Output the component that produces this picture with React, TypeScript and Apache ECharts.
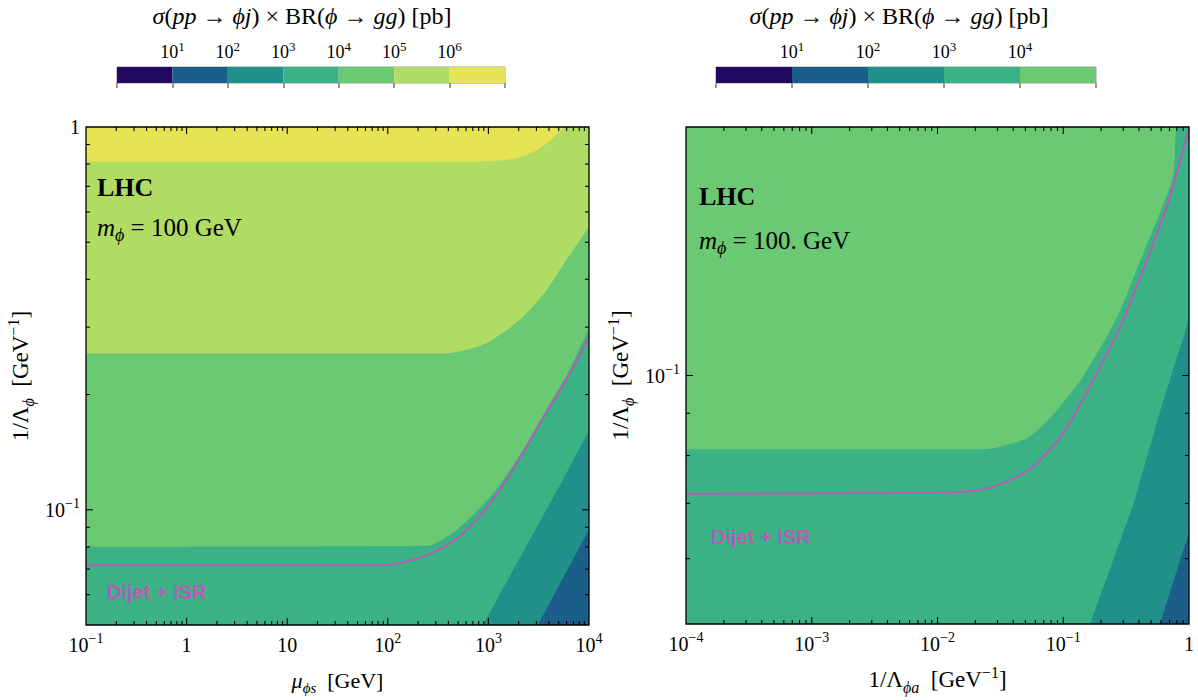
import React, { useEffect, useRef } from 'react';
import * as echarts from 'echarts';

type Pt = [number, number];

// contour band colours, lowest band (<10 pb) to highest (>1e6 pb)
const levelColors = ['#22085e', '#1b5e8a', '#21908b', '#3bb283', '#6bc974', '#b0dc63', '#e6e455'];
const dijetColor = '#b35cb8';

// colour bar tick exponents (10^k) and number of bands shown
const leftBarExponents = [1, 2, 3, 4, 5, 6];
const rightBarExponents = [1, 2, 3, 4];
const leftBarBands = 7;
const rightBarBands = 5;

// axis ranges
const leftXRange: Pt = [0.1, 1e4];
const leftYRange: Pt = [0.05, 1];
const rightXRange: Pt = [1e-4, 1];
const rightYRange: Pt = [0.05, 0.2];

// log-axis tick layout
const minorMantissas = [2, 3, 4, 5, 6, 7, 8, 9];
const leftXDecades = [0.1, 1, 10, 100, 1000, 10000];
const leftYDecades = [0.01, 0.1, 1];
const rightXDecades = [1e-4, 1e-3, 1e-2, 1e-1, 1];
const rightYDecades = [0.01, 0.1];

// left panel: contour boundaries (mu_phis [GeV], 1/Lambda_phi [GeV^-1])
const leftContour1e2: Pt[] = [[3100, 0.05], [1e4, 0.0887]];
const leftContour1e3: Pt[] = [[883, 0.05], [2000, 0.074], [4400, 0.1075], [1e4, 0.161]];
const leftContour1e4: Pt[] = [[0.1, 0.0801], [245, 0.0806], [415, 0.0861], [585, 0.0925], [826, 0.1012], [1164, 0.112], [1642, 0.127], [2420, 0.149], [3830, 0.184], [6040, 0.2255], [1e4, 0.297]];
const leftContour1e5: Pt[] = [[0.1, 0.256], [330, 0.256], [820, 0.268], [1530, 0.295], [2420, 0.327], [3830, 0.377], [6040, 0.452], [1e4, 0.547]];
const leftContour1e6: Pt[] = [[0.1, 0.811], [820, 0.813], [1760, 0.826], [3040, 0.871], [4400, 0.936], [6000, 1]];
const leftDijetISR: Pt[] = [[0.1, 0.0716], [90, 0.0716], [166, 0.0737], [281, 0.0773], [488, 0.0842], [771, 0.0945], [1300, 0.1127], [2060, 0.1365], [3830, 0.181], [6040, 0.22], [1e4, 0.283]];

// right panel: contour boundaries (1/Lambda_phia [GeV^-1], 1/Lambda_phi [GeV^-1])
const rightContour1e2: Pt[] = [[0.587, 0.05], [1, 0.0646]];
const rightContour1e3: Pt[] = [[0.163, 0.05], [0.359, 0.0696], [0.621, 0.093], [1, 0.117]];
const rightContour1e4: Pt[] = [[1e-4, 0.0814], [0.023, 0.0814], [0.0378, 0.0826], [0.0515, 0.084], [0.0653, 0.0863], [0.0828, 0.0896], [0.1035, 0.0934], [0.136, 0.0985], [0.196, 0.1078], [0.282, 0.1197], [0.407, 0.1374], [0.588, 0.1577], [0.746, 0.1742], [0.818, 0.2]];
const rightDijetISR: Pt[] = [[1e-4, 0.0719], [0.0126, 0.0722], [0.0206, 0.0726], [0.0297, 0.0736], [0.0398, 0.075], [0.0545, 0.0771], [0.0743, 0.0806], [0.0995, 0.0851], [0.136, 0.0922], [0.196, 0.1024], [0.282, 0.1143], [0.407, 0.1312], [0.588, 0.1517], [0.746, 0.1694], [1, 0.2]];

const SERIF = '"Liberation Serif", "Times New Roman", serif';
const SANS = '"Liberation Sans", Arial, sans-serif';

const richMath = (size: number) => ({
  r: { fontFamily: SERIF, fontSize: size, color: '#000', lineHeight: Math.round(size * 1.35) },
  i: { fontFamily: SERIF, fontStyle: 'italic', fontSize: size, color: '#000', lineHeight: Math.round(size * 1.35) },
  sup: { fontFamily: SERIF, fontSize: Math.round(size * 0.7), color: '#000', verticalAlign: 'top', lineHeight: Math.round(size * 0.7) },
  sub: { fontFamily: SERIF, fontStyle: 'italic', fontSize: Math.round(size * 0.7), color: '#000', verticalAlign: 'bottom', lineHeight: Math.round(size * 0.7) },
});

const expLabel = (v: number) => {
  const e = Math.log10(v);
  const r = Math.round(e);
  if (Math.abs(e - r) > 1e-6) return '';
  if (r === 0) return '{r|1}';
  if (r === 1) return '{r|10}';
  return `{r|10}{sup|${r < 0 ? '−' : ''}${Math.abs(r)}}`;
};

const closeRegion = (curve: Pt[], xr: Pt, yr: Pt): Pt[] => {
  const pts = curve.slice();
  if (pts[0][0] > xr[0]) pts.unshift([xr[0], yr[0]]);
  if (pts[pts.length - 1][0] < xr[1]) pts.push([xr[1], yr[1]]);
  return pts;
};

const inRange = (vals: number[], r: Pt, strict: boolean) =>
  vals.filter((v) => (strict ? v > r[0] * 1.0001 && v < r[1] * 0.9999 : v >= r[0] * 0.9999 && v <= r[1] * 1.0001));
const minorOf = (decades: number[]) => {
  const out: number[] = [];
  decades.forEach((d) => minorMantissas.forEach((m) => out.push(+(d * m).toPrecision(6))));
  return out;
};

const areaSeries = (data: Pt[], color: string, idx: number, smooth: boolean | number) => ({
  type: 'line',
  xAxisIndex: idx,
  yAxisIndex: idx,
  data,
  smooth,
  symbol: 'none',
  silent: true,
  lineStyle: { width: 0, opacity: 0 },
  areaStyle: { color, opacity: 1, origin: 'end' },
  z: 2,
});

const lineSeries = (data: Pt[], idx: number) => ({
  type: 'line',
  xAxisIndex: idx,
  yAxisIndex: idx,
  data,
  smooth: 0.3,
  symbol: 'none',
  silent: true,
  lineStyle: { color: dijetColor, width: 2 },
  z: 3,
});

const mainAxis = (grid: number, range: Pt, position: string, labels: boolean, extra: any = {}) => ({
  gridIndex: grid,
  type: 'log',
  logBase: 10,
  min: range[0],
  max: range[1],
  position,
  z: 10,
  axisLine: { show: false, onZero: false },
  axisTick: { show: false },
  minorTick: { show: false },
  splitLine: { show: false },
  axisLabel: { show: labels, formatter: expLabel, rich: richMath(20), margin: 6 },
  ...extra,
});

const barAxis = (grid: number, bands: number, exps: number[]) => ({
  gridIndex: grid,
  type: 'value',
  min: 0,
  max: bands,
  interval: 1,
  position: 'top',
  z: 10,
  axisLine: { show: false },
  axisTick: { show: true, inside: true, length: 5, lineStyle: { color: '#777', width: 1.5 } },
  splitLine: { show: false },
  axisLabel: {
    margin: 3,
    rich: richMath(18),
    formatter: (v: number) => (exps.includes(v) ? `{r|10}{sup|${v}}` : ''),
  },
});

const barSeries = (idx: number, bands: number) => ({
  type: 'custom',
  xAxisIndex: idx,
  yAxisIndex: idx,
  silent: true,
  data: levelColors.slice(0, bands).map((c, i) => [i, i + 1]),
  renderItem: (params: any, api: any) => {
    const a = api.coord([api.value(0), 0]);
    const b = api.coord([api.value(1), 1]);
    return {
      type: 'rect',
      shape: { x: a[0], y: b[1], width: b[0] - a[0], height: a[1] - b[1] },
      style: { fill: levelColors[params.dataIndex] },
    };
  },
  z: 2,
});

const titleText = '{i|σ}{r|(}{i|pp}{r| → }{i|ϕj}{r|) × BR(}{i|ϕ}{r| → }{i|gg}{r|) [pb]}';
const yName = '{r|1/Λ}{sub|ϕ}{r|  [GeV}{sup|−1}{r|]}';

const textEl = (x: number, y: number, text: string, style: any) => ({
  type: 'text',
  x,
  y,
  z: 100,
  style: { text, align: 'left', verticalAlign: 'middle', textAlign: 'left', textVerticalAlign: 'middle', fill: '#000', ...style },
});

export default function App() {
  const ref = useRef<HTMLDivElement>(null);
  useEffect(() => {
    if (!ref.current) return;
    const chart = echarts.init(ref.current, undefined, { renderer: 'svg' });
    const texts: any[] = [
      { type: 'text', x: 302, y: 16, z: 100, style: { text: titleText, rich: richMath(24), align: 'center', verticalAlign: 'middle', textAlign: 'center', textVerticalAlign: 'middle' } },
      { type: 'text', x: 899, y: 16, z: 100, style: { text: titleText, rich: richMath(24), align: 'center', verticalAlign: 'middle', textAlign: 'center', textVerticalAlign: 'middle' } },
      textEl(97, 187, 'LHC', { font: `bold 26px ${SERIF}` }),
      textEl(97, 227, '{i|m}{sub|ϕ}{r| = 100 GeV}', { rich: richMath(25) }),
      textEl(699, 196, 'LHC', { font: `bold 26px ${SERIF}` }),
      textEl(699, 240, '{i|m}{sub|ϕ}{r| = 100. GeV}', { rich: richMath(25) }),
      textEl(107, 592, 'Dijet + ISR', { font: `bold 20px ${SANS}`, fill: dijetColor }),
      textEl(711, 537, 'Dijet + ISR', { font: `bold 20px ${SANS}`, fill: dijetColor }),
    ];
    const option: any = {
      animation: false,
      grid: [
        { left: 86, top: 127, width: 503, height: 503 },
        { left: 686, top: 127, width: 503, height: 503 },
        { left: 117, top: 67, width: 388, height: 16, show: true, borderColor: '#999', borderWidth: 1 },
        { left: 716, top: 67, width: 380, height: 16, show: true, borderColor: '#999', borderWidth: 1 },
      ],
      xAxis: [
        mainAxis(0, leftXRange, 'bottom', true, {
          name: '{i|μ}{sub|ϕs}{r|  [GeV]}', nameLocation: 'middle', nameGap: 40, nameTextStyle: { rich: richMath(22) },
        }),
        mainAxis(0, leftXRange, 'top', false),
        mainAxis(1, rightXRange, 'bottom', true, {
          name: '{r|1/Λ}{sub|ϕa}{r|  [GeV}{sup|−1}{r|]}', nameLocation: 'middle', nameGap: 40, nameTextStyle: { rich: richMath(23) },
        }),
        mainAxis(1, rightXRange, 'top', false),
        barAxis(2, leftBarBands, leftBarExponents),
        barAxis(3, rightBarBands, rightBarExponents),
      ],
      yAxis: [
        mainAxis(0, leftYRange, 'left', true, {
          name: yName, nameLocation: 'middle', nameGap: 50, nameTextStyle: { rich: richMath(23) },
        }),
        mainAxis(0, leftYRange, 'right', false),
        mainAxis(1, rightYRange, 'left', true, {
          name: yName, nameLocation: 'middle', nameGap: 50, nameTextStyle: { rich: richMath(23) },
        }),
        mainAxis(1, rightYRange, 'right', false),
        { gridIndex: 2, type: 'value', min: 0, max: 1, show: false },
        { gridIndex: 3, type: 'value', min: 0, max: 1, show: false },
      ],
      series: [
        // left panel (xAxis 0 / yAxis 0)
        areaSeries([[leftXRange[0], leftYRange[0]], [leftXRange[1], leftYRange[0]]], levelColors[1], 0, false),
        areaSeries(closeRegion(leftContour1e2, leftXRange, leftYRange), levelColors[2], 0, false),
        areaSeries(closeRegion(leftContour1e3, leftXRange, leftYRange), levelColors[3], 0, false),
        areaSeries(closeRegion(leftContour1e4, leftXRange, leftYRange), levelColors[4], 0, 0.3),
        areaSeries(closeRegion(leftContour1e5, leftXRange, leftYRange), levelColors[5], 0, 0.3),
        areaSeries(closeRegion(leftContour1e6, leftXRange, leftYRange), levelColors[6], 0, 0.3),
        lineSeries(leftDijetISR, 0),
        // right panel (xAxis 2 / yAxis 2)
        areaSeries([[rightXRange[0], rightYRange[0]], [rightXRange[1], rightYRange[0]]], levelColors[1], 2, false),
        areaSeries(closeRegion(rightContour1e2, rightXRange, rightYRange), levelColors[2], 2, false),
        areaSeries(closeRegion(rightContour1e3, rightXRange, rightYRange), levelColors[3], 2, false),
        areaSeries(closeRegion(rightContour1e4, rightXRange, rightYRange), levelColors[4], 2, 0.3),
        lineSeries(rightDijetISR, 2),
        // colour bars (xAxis 4 / 5)
        barSeries(4, leftBarBands),
        barSeries(5, rightBarBands),
      ],
      graphic: { elements: texts },
    };
    chart.setOption(option);

    // frame and log ticks, positioned through the axes' own scales
    const frameEls: any[] = [];
    const stroke = (w: number) => ({ stroke: '#000', lineWidth: w, fill: 'none' });
    const panel = (ai: number, xr: Pt, yr: Pt, xDec: number[], yDec: number[]) => {
      const X = (v: number) => chart.convertToPixel({ xAxisIndex: ai }, v) as number;
      const Y = (v: number) => chart.convertToPixel({ yAxisIndex: ai }, v) as number;
      const x0 = X(xr[0]);
      const x1 = X(xr[1]);
      const y0 = Y(yr[0]);
      const y1 = Y(yr[1]);
      const addX = (vals: number[], len: number) => vals.forEach((v) => {
        const px = X(v);
        frameEls.push({ type: 'line', z: 90, silent: true, shape: { x1: px, y1: y0, x2: px, y2: y0 - len }, style: stroke(1.1) });
        frameEls.push({ type: 'line', z: 90, silent: true, shape: { x1: px, y1: y1, x2: px, y2: y1 + len }, style: stroke(1.1) });
      });
      const addY = (vals: number[], len: number) => vals.forEach((v) => {
        const py = Y(v);
        frameEls.push({ type: 'line', z: 90, silent: true, shape: { x1: x0, y1: py, x2: x0 + len, y2: py }, style: stroke(1.1) });
        frameEls.push({ type: 'line', z: 90, silent: true, shape: { x1: x1, y1: py, x2: x1 - len, y2: py }, style: stroke(1.1) });
      });
      addX(inRange(xDec, xr, true), 7);
      addX(inRange(minorOf(xDec), xr, true), 4);
      addY(inRange(yDec, yr, true), 7);
      addY(inRange(minorOf(yDec), yr, true), 4);
      frameEls.push({ type: 'rect', z: 91, silent: true, shape: { x: x0, y: y1, width: x1 - x0, height: y0 - y1 }, style: stroke(1.3) });
    };
    panel(0, leftXRange, leftYRange, leftXDecades, leftYDecades);
    panel(2, rightXRange, rightYRange, rightXDecades, rightYDecades);
    chart.setOption({ graphic: { elements: [...texts, ...frameEls] } });

    return () => chart.dispose();
  }, []);
  return (
    <div
      ref={ref}
      style={{ position: 'fixed', left: 0, top: 0, width: 1198, height: 700, background: '#fff' }}
    />
  );
}
